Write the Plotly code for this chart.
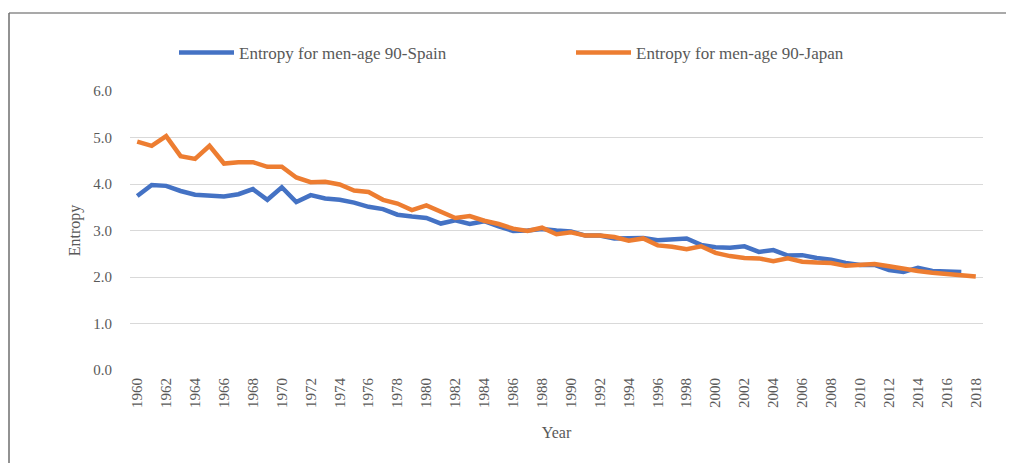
import plotly.graph_objects as go

# Data
years = list(range(1960, 2019))

spain = [3.74, 3.98, 3.96, 3.85, 3.77, 3.76, 3.73, 3.78, 3.89, 3.66,
         3.93, 3.61, 3.76, 3.69, 3.66, 3.60, 3.51, 3.46, 3.34, 3.30,
         3.27, 3.15, 3.22, 3.14, 3.20, 3.09, 2.99, 3.00, 3.03, 3.00,
         2.98, 2.89, 2.89, 2.83, 2.83, 2.84, 2.79, 2.80, 2.83, 2.69,
         2.64, 2.63, 2.66, 2.54, 2.58, 2.46, 2.47, 2.41, 2.37, 2.30,
         2.26, 2.26, 2.15, 2.11, 2.20, 2.13, 2.13, 2.11, None]

japan = [4.91, 4.82, 5.03, 4.60, 4.54, 4.82, 4.44, 4.47, 4.47, 4.37,
         4.37, 4.14, 4.04, 4.05, 3.99, 3.86, 3.83, 3.66, 3.58, 3.44,
         3.54, 3.40, 3.27, 3.31, 3.21, 3.14, 3.04, 2.99, 3.06, 2.92,
         2.96, 2.89, 2.89, 2.86, 2.78, 2.83, 2.68, 2.65, 2.60, 2.66,
         2.52, 2.45, 2.41, 2.40, 2.34, 2.40, 2.33, 2.31, 2.30, 2.24,
         2.26, 2.28, 2.23, 2.17, 2.13, 2.09, 2.06, 2.05, 2.01]

series_names = ["Entropy for men-age 90-Spain", "Entropy for men-age 90-Japan"]
series_colors = ["#4472C4", "#ED7D31"]

# page body has an 8px margin, so the figure sits at (8, 8) on screen;
# it is left at full window size and simply runs past the right/bottom edge
OFF = 8
W, H = 1014, 463
L, T = 130 - OFF, 91 - OFF
R = W - (983 - OFF)
B = H - (370 - OFF)
TEXT = "#595959"
FONT = "Liberation Serif"

fig = go.Figure()
for name, vals, col in zip(series_names, [spain, japan], series_colors):
    fig.add_trace(go.Scatter(
        x=years, y=vals, mode="lines", name=name,
        line=dict(color=col, width=4.5),
    ))

# screen pixel -> paper coordinates
pw, ph = W - L - R, H - T - B
def px(x):
    return (x - OFF - L) / pw
def py(y):
    return (H - B - (y - OFF)) / ph

fig.update_layout(
    width=W, height=H,
    margin=dict(l=L, r=R, t=T, b=B),
    paper_bgcolor="white",
    plot_bgcolor="white",
    font=dict(family=FONT, color=TEXT, size=15),
    showlegend=True,
    legend=dict(
        orientation="h",
        x=px(174), xanchor="left",
        y=py(53), yanchor="middle",
        font=dict(size=17, color=TEXT),
        entrywidth=327, entrywidthmode="pixels",
        itemwidth=55,
        bgcolor="rgba(0,0,0,0)",
    ),
    shapes=[
        # chart-area frame (top and left edges; the rest is cut off in the reference)
        dict(type="line", xref="paper", yref="paper",
             x0=px(9), x1=px(1016), y0=py(13), y1=py(13),
             line=dict(color="#8C8C8C", width=1.5)),
        dict(type="line", xref="paper", yref="paper",
             x0=px(9), x1=px(9), y0=py(13), y1=py(466),
             line=dict(color="#6E6E6E", width=1.5)),
    ],
)

fig.update_xaxes(
    range=[1959.5, 2018.5],
    tickmode="linear", tick0=1960, dtick=2,
    tickangle=-90,
    showgrid=False, zeroline=False, showline=False,
    ticks="", ticklabelstandoff=4, automargin=False,
    tickfont=dict(size=15, color=TEXT),
    title=dict(text="Year", font=dict(size=16, color=TEXT), standoff=19),
)

fig.update_yaxes(
    range=[0, 6],
    tickmode="linear", tick0=0, dtick=1,
    tickformat=".1f",
    showgrid=True, gridcolor="#D9D9D9", gridwidth=1.2,
    zeroline=False, showline=False,
    ticks="", ticklabelstandoff=17, automargin=False,
    tickfont=dict(size=15, color=TEXT),
    title=dict(text="Entropy", font=dict(size=16, color=TEXT), standoff=8),
)

fig.write_html("out.html", config={"displayModeBar": False})
